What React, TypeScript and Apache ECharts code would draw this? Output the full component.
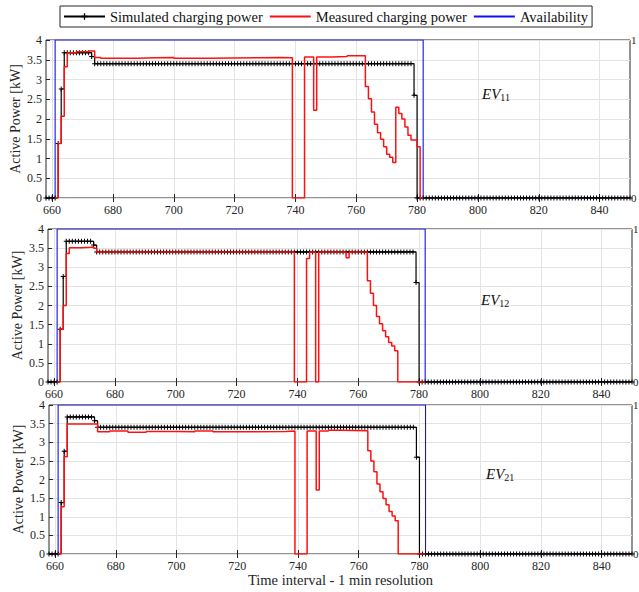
import React, { useEffect, useRef } from "react";
import * as echarts from "echarts";

const FONT = "'Liberation Serif', 'Times New Roman', serif";
const TEXT = "#262626";
const GRIDLINE = "#e3e3e3";

const X_MIN = 658;
const X_MAX = 850;
const xTickValues = [660, 680, 700, 720, 740, 760, 780, 800, 820, 840];

const seriesNames = ["Simulated charging power", "Measured charging power", "Availability"];
const panelLabels = ["11", "12", "21"];

// Simulated charging power (step breakpoints: minute -> value held until next breakpoint)
const simMinutes1 = [658, 662, 663, 664, 673, 674, 779, 780, 850];
const simValues1 = [0, 1.38, 2.76, 3.68, 3.58, 3.4, 2.6, 0, 0];
const simMinutes2 = [658, 662, 663, 664, 673, 674, 779, 780, 850];
const simValues2 = [0, 1.38, 2.76, 3.68, 3.58, 3.4, 2.6, 0, 0];
const simMinutes3 = [658, 662, 663, 664, 673, 674, 779, 780, 850];
const simValues3 = [0, 1.38, 2.76, 3.68, 3.58, 3.4, 2.6, 0, 0];

// Measured charging power
const measMinutes1 = [661, 662, 663, 664, 665, 668, 672, 674, 676, 688, 694, 700, 712, 728, 735, 739, 743, 746, 747, 752, 757,
  763, 764, 765, 766, 767, 768, 769, 770, 771, 772, 773, 774, 775, 776, 777, 778, 780, 781, 782];
const measValues1 = [0, 1.38, 2.07, 3.32, 3.68, 3.7, 3.72, 3.56, 3.54, 3.55, 3.56, 3.54, 3.55, 3.56, 3.55, 0, 3.57, 2.22, 3.57, 3.58, 3.6,
  2.82, 2.51, 2.18, 1.87, 1.65, 1.49, 1.3, 1.11, 1.03, 0.9, 2.3, 2.14, 2.0, 1.8, 1.59, 1.47, 1.3, 0, 0];

const measMinutes2 = [661, 662, 663, 664, 665, 669, 672, 673, 674, 739, 743, 744, 746, 747, 756, 757,
  763, 764, 765, 766, 767, 768, 769, 770, 771, 772, 773, 782];
const measValues2 = [0, 1.38, 2.0, 3.36, 3.51, 3.52, 3.53, 3.5, 3.4, 0, 3.23, 3.4, 0, 3.4, 3.25, 3.4,
  2.65, 2.32, 2.0, 1.71, 1.52, 1.34, 1.18, 1.03, 0.94, 0.82, 0, 0];

const measMinutes3 = [661, 662, 663, 664, 674, 678, 684, 690, 700, 706, 712, 724, 736, 739, 743, 746, 747, 750, 754,
  763, 764, 765, 766, 767, 768, 769, 770, 771, 772, 773, 782];
const measValues3 = [0, 1.27, 2.61, 3.49, 3.28, 3.3, 3.27, 3.29, 3.28, 3.3, 3.28, 3.29, 3.3, 0, 3.3, 1.72, 3.3, 3.32, 3.31,
  2.77, 2.5, 2.21, 1.88, 1.67, 1.49, 1.32, 1.14, 1.02, 0.89, 0, 0];

// Availability (right axis, 0/1)
const availMinutes1 = [658, 661, 782, 850];
const availValues1 = [0, 1, 0, 0];
const availMinutes2 = [658, 661, 782, 850];
const availValues2 = [0, 1, 0, 0];
const availMinutes3 = [658, 661, 782, 850];
const availValues3 = [0, 1, 0, 0];

const PLUS = "path://M2,0h1v2h2v1h-2v2h-1v-2h-2v-1h2z";

function pairs(minutes: number[], values: number[]) {
  return minutes.map((m, i) => [m, values[i]]);
}

// one point per minute, holding each read step value until the next breakpoint
function perMinute(minutes: number[], values: number[]) {
  const out: number[][] = [];
  let k = 0;
  for (let m = minutes[0]; m <= minutes[minutes.length - 1]; m++) {
    while (k + 1 < minutes.length && minutes[k + 1] <= m) k++;
    out.push([m, values[k]]);
  }
  return out;
}

export default function App() {
  const ref = useRef<HTMLDivElement>(null);

  useEffect(() => {
    if (!ref.current) return;
    const chart = echarts.init(ref.current, undefined, { renderer: "svg" });

    const grids = [
      { left: 46, top: 40, width: 584, height: 158 },
      { left: 48, top: 229, width: 584, height: 153 },
      { left: 49, top: 405, width: 583, height: 149 },
    ];
    const simData = [perMinute(simMinutes1, simValues1), perMinute(simMinutes2, simValues2), perMinute(simMinutes3, simValues3)];
    const measData = [pairs(measMinutes1, measValues1), pairs(measMinutes2, measValues2), pairs(measMinutes3, measValues3)];
    const availData = [pairs(availMinutes1, availValues1), pairs(availMinutes2, availValues2), pairs(availMinutes3, availValues3)];
    const labelPos = [
      { left: 482, top: 86 },
      { left: 481, top: 292 },
      { left: 486, top: 466 },
    ];

    const xAxis: any[] = [];
    const yAxis: any[] = [];
    const series: any[] = [];
    const graphic: any[] = [];

    grids.forEach((g, i) => {
      xAxis.push({
        type: "value",
        gridIndex: i,
        position: "bottom",
        min: X_MIN,
        max: X_MAX,
        axisLine: { show: false },
        axisTick: { show: true, inside: true, length: 4, customValues: xTickValues, lineStyle: { color: TEXT } },
        axisLabel: { customValues: xTickValues, margin: 6, fontFamily: FONT, fontSize: 12, color: TEXT },
        splitLine: { show: true, lineStyle: { color: GRIDLINE, width: 1 } },
        name: i === 2 ? "Time interval - 1 min resolution" : "",
        nameLocation: "middle",
        nameGap: 18,
        nameMoveOverlap: false,
        nameTextStyle: { fontFamily: FONT, fontSize: 14.5, color: TEXT },
      });
      xAxis.push({
        type: "value",
        gridIndex: i,
        position: "top",
        min: X_MIN,
        max: X_MAX,
        axisLine: { show: false },
        axisTick: { show: true, inside: true, length: 4, customValues: xTickValues, lineStyle: { color: TEXT } },
        axisLabel: { show: false },
        splitLine: { show: false },
      });
      yAxis.push({
        type: "value",
        gridIndex: i,
        position: "left",
        min: 0,
        max: 4,
        interval: 0.5,
        axisLine: { show: false },
        axisTick: { show: true, inside: true, length: 4, lineStyle: { color: TEXT } },
        axisLabel: { margin: 4, fontFamily: FONT, fontSize: 12, color: TEXT },
        splitLine: { show: true, lineStyle: { color: GRIDLINE, width: 1 } },
        name: "Active Power [kW]",
        nameLocation: "middle",
        nameGap: 24,
        nameMoveOverlap: false,
        nameTextStyle: { fontFamily: FONT, fontSize: 14, color: TEXT },
      });
      yAxis.push({
        type: "value",
        gridIndex: i,
        position: "right",
        min: 0,
        max: 1,
        interval: 1,
        axisLine: { show: false },
        axisTick: { show: false },
        axisLabel: { margin: 1, fontFamily: FONT, fontSize: 11, color: TEXT },
        splitLine: { show: false },
      });

      series.push({
        name: seriesNames[2],
        type: "line",
        xAxisIndex: 2 * i,
        yAxisIndex: 2 * i + 1,
        step: "end",
        data: availData[i],
        symbol: "none",
        lineStyle: { color: "#1010ee", width: 1.1 },
        itemStyle: { color: "#1010ee" },
        z: 2,
      });
      series.push({
        name: seriesNames[0],
        type: "line",
        xAxisIndex: 2 * i,
        yAxisIndex: 2 * i,
        step: "end",
        data: simData[i],
        symbol: PLUS,
        symbolSize: 5,
        showSymbol: true,
        lineStyle: { color: "#000000", width: 1.2 },
        itemStyle: { color: "#000000" },
        z: 3,
      });
      series.push({
        name: seriesNames[1],
        type: "line",
        xAxisIndex: 2 * i,
        yAxisIndex: 2 * i,
        step: "end",
        data: measData[i],
        symbol: "none",
        lineStyle: { color: "#ff1010", width: 1.5 },
        itemStyle: { color: "#ff1010" },
        z: 4,
      });

      graphic.push({
        type: "text",
        left: labelPos[i].left,
        top: labelPos[i].top,
        z: 10,
        style: {
          text: "{a|EV}{b|" + panelLabels[i] + "}",
          rich: {
            a: { fontFamily: FONT, fontStyle: "italic", fontSize: 15, fill: "#111" },
            b: { fontFamily: FONT, fontSize: 10, fill: "#111", padding: [7, 0, 0, 0] },
          },
        },
      });
    });

    chart.setOption({
      animation: false,
      backgroundColor: "#ffffff",
      textStyle: { fontFamily: FONT },
      legend: {
        data: [
          { name: seriesNames[0] },
          { name: seriesNames[1], itemStyle: { opacity: 0 } },
          { name: seriesNames[2], itemStyle: { opacity: 0 } },
        ],
        left: 60,
        top: 6,
        padding: [3, 4, 3, 3],
        itemGap: 6,
        itemWidth: 41,
        itemHeight: 8,
        borderColor: TEXT,
        borderWidth: 1,
        backgroundColor: "#ffffff",
        textStyle: { fontFamily: FONT, fontSize: 14.5, color: "#111" },
      },
      grid: grids.map((g) => ({
        ...g,
        show: true,
        borderColor: TEXT,
        borderWidth: 1,
        backgroundColor: "transparent",
        containLabel: false,
        outerBoundsMode: "none",
      })),
      xAxis,
      yAxis,
      series,
      graphic,
    });

    return () => chart.dispose();
  }, []);

  return (
    <div
      ref={ref}
      style={{ position: "fixed", left: 0, top: 0, width: 639, height: 592, background: "#fff" }}
    />
  );
}
